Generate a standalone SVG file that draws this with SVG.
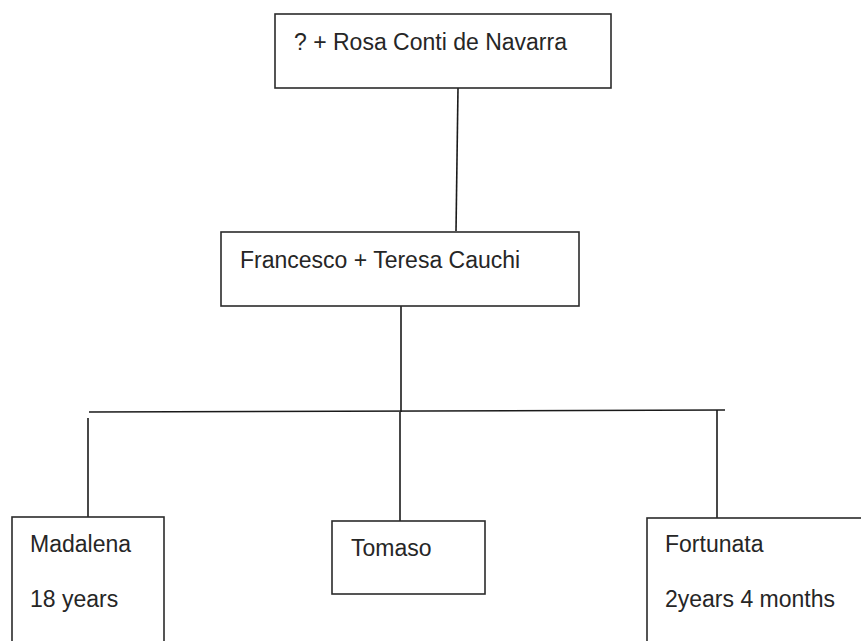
<svg xmlns="http://www.w3.org/2000/svg" width="861" height="641" viewBox="0 0 861 641">
<style>
.box{fill:#fff;stroke:#2b2b2b;stroke-width:1.6}
.t{font-family:"Liberation Sans",Arial,sans-serif;font-size:23px;fill:#262626}
.ln{stroke:#1a1a1a;stroke-width:1.6;fill:none}
</style>
<rect width="861" height="641" fill="#fff"/>
<g id="connectors">
<line class="ln" x1="458" y1="88" x2="456" y2="231"/>
<line class="ln" x1="401" y1="306" x2="401" y2="412"/>
<line class="ln" x1="89" y1="412" x2="725" y2="410"/>
<line class="ln" x1="88" y1="418" x2="88" y2="517"/>
<line class="ln" x1="400" y1="412" x2="400" y2="521"/>
<line class="ln" x1="717" y1="410" x2="717" y2="518"/>
</g>
<g id="rosa">
<rect class="box" x="275" y="14" width="336" height="74"/>
<text class="t" x="294" y="50">? + Rosa Conti de Navarra</text>
</g>
<g id="francesco">
<rect class="box" x="221" y="232" width="358" height="74"/>
<text class="t" x="240" y="268">Francesco + Teresa Cauchi</text>
</g>
<g id="madalena">
<rect class="box" x="12" y="517" width="152" height="140"/>
<text class="t" x="30" y="552">Madalena</text>
<text class="t" x="30" y="607">18 years</text>
</g>
<g id="tomaso">
<rect class="box" x="332" y="521" width="153" height="73"/>
<text class="t" x="351" y="556">Tomaso</text>
</g>
<g id="fortunata">
<rect class="box" x="647" y="518" width="230" height="140"/>
<text class="t" x="665" y="552">Fortunata</text>
<text class="t" x="665" y="607">2years 4 months</text>
</g>
</svg>
